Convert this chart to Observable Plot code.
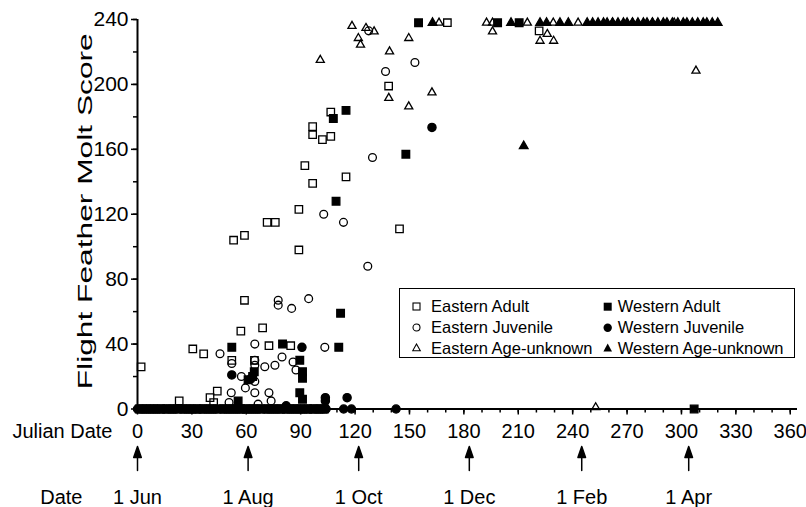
<!DOCTYPE html>
<html>
<head>
<meta charset="utf-8">
<script src="https://cdn.jsdelivr.net/npm/d3@7"></script>
<script src="https://cdn.jsdelivr.net/npm/@observablehq/plot@0.6"></script>
<style>
  html, body { margin: 0; padding: 0; background: #fff; }
  #wrap { position: relative; width: 806px; height: 507px; font-family: "Liberation Sans", Arial, Helvetica, sans-serif; }
  #legend { position: absolute; left: 399px; top: 288px; width: 396px; height: 70px; border: 1.5px solid #000; box-sizing: border-box; }
  .li { position: absolute; height: 20px; line-height: 20px; font-size: 16.5px; color: #000; white-space: nowrap; }
  .li svg { position: absolute; top: 5.5px; }
</style>
</head>
<body>
<div id="wrap"></div>
<script>
// ---- data: [Julian day, flight feather molt score] ----
const easternAdult = [
  [2,26],[23,5],[30.5,37],[36.5,34],[40,7],[42,4],[44,11],[52,30],[53,104],[57,48],
  [59,107],[59,67],[64.5,30],[69,50],[71.5,115],[72.5,39],[76,115],[84.5,39],[89,123],
  [89,98],[92.3,150],[96.6,174],[96.6,169],[96.6,139],[102,166],[106.6,168],[106.6,183],
  [115,143],[138.5,199],[144.5,111],[170.9,238],[221.5,233]
];
const easternJuvenile = [
  [45.5,34],[50.5,4],[51.7,10],[52,28],[57.3,20],[59.5,13],[64.7,40],[64.7,30],[64.7,27],
  [64.7,17],[64.7,10],[66.5,3],[70.2,26],[72.5,10],[73.7,5],[75.8,27],[77.6,67],[77.6,64],
  [79.7,32],[85,62],[85.8,29],[87.4,24],[94.4,68],[102.7,120],[103.3,38],[113.6,115],
  [127,88],[127.5,233],[129.6,155],[136.8,208],[153,213.5]
];
const easternAgeUnknown = [
  [100.8,215],[118.3,236],[121.8,228.5],[123,224.4],[126,234.7],[130.5,232.6],[139,220.3],
  [138.6,191.6],[149.6,228.5],[149.6,186.4],[162.4,195],[166.3,238],[192.5,238],
  [195.8,232.6],[195.8,238],[215,238],[229.3,238],[243,238],[222,226.8],[226,231],
  [229.5,226.8],[252.7,1],[262,238],[273,238],[284,238],[296,238],[308,208.4]
];
const westernAdult = [
  [52,38],[55.5,5],[61,18],[63.5,20],[64.4,23],[80,40],[89.5,30],[89.5,10],[91,23],
  [91,19],[91,6],[108,179],[109.5,128],[111,38],[112,59],[115,184],[148,157],[155,238],
  [198.6,238],[210.5,238],[307,0]
];
const westernAdultZeroDays = [1,3,5,7,9,11,13,16,18,20,22,25,27,29,31,33,36,38,40,42,44,47,49,51,53,55,57,60,62,64,66,68,71,73,75,77,79,82,84,86,88,90,92,94,97,99,101,103];
const westernJuvenile = [
  [52,21],[62.5,18.6],[82,2],[90.7,38],[103.6,7],[103.6,5],[113.7,0],[115.6,7],[118,0],
  [142.6,0],[162.4,173.5]
];
const westernJuvenileZeroDays = [0,2,4,6,8,10,12,14,15,17,19,21,24,26,28,30,32,34,35,37,39,41,43,46,48,50,52,54,56,58,59,61,63,65,67,70,72,74,76,78,80,81,83,85,87,89,91,93,95,96,98,100,102,104];
const westernAgeUnknown = [
  [162.7,238],[206,238],[213,162],[222,238],[225.6,238],[233,238],[237.6,238],
  [248,238],[251,238],[254,238],[257,238],[259,238],[262,238],[265,238],[268,238],
  [270,238],[273,238],[276,238],[279,238],[281,238],[284,238],[287,238],[290,238],
  [292,238],[295,238],[298,238],[301,238],[303,238],[306,238],[309,238],[312,238],
  [314,238],[317,238],[320,238]
];
const xTicks = [0,30,60,90,120,150,180,210,240,270,300,330,360];
const yTicks = [0,40,80,120,160,200,240];
const dateDays = [0,61,122,183,245,304];
const dateLabels = ["1 Jun","1 Aug","1 Oct","1 Dec","1 Feb","1 Apr"];

const seriesNames = ["Eastern Adult","Eastern Juvenile","Eastern Age-unknown","Western Adult","Western Juvenile","Western Age-unknown"];

// ---- build ----
const wa = westernAdult.concat(westernAdultZeroDays.map(d => [d, 0]));
const wj = westernJuvenile.concat(westernJuvenileZeroDays.map(d => [d, 0]));
const series = [
  {data: easternAdult, symbol: "square", filled: false, r: 4.2},
  {data: easternJuvenile, symbol: "circle", filled: false, r: 3.9},
  {data: easternAgeUnknown, symbol: "triangle", filled: false, r: 3},
  {data: wa, symbol: "square", filled: true, r: 4.3},
  {data: wj, symbol: "circle", filled: true, r: 4.1},
  {data: westernAgeUnknown, symbol: "triangle", filled: true, r: 3.2}
];
const dates = dateDays.map((d, i) => ({day: d, label: dateLabels[i]}));

const arrowShape = {
  draw(ctx, l) {
    ctx.moveTo(0, 0);
    ctx.lineTo(0, -l + 8);
    ctx.moveTo(0, -l);
    ctx.lineTo(-3.8, -l + 11);
    ctx.lineTo(3.8, -l + 11);
    ctx.closePath();
  }
};

const chart = Plot.plot({
  width: 806,
  height: 507,
  marginLeft: 137,
  marginRight: 9,
  marginTop: 19,
  marginBottom: 98.5,
  x: {domain: [0, 364], axis: null},
  y: {domain: [0, 240], axis: null},
  style: {fontFamily: "'Liberation Sans', Arial, Helvetica, sans-serif", fontSize: "20px", color: "#000", background: "#fff", overflow: "visible"},
  marks: [
    Plot.axisY(d3.range(0, 241, 20), {tickSize: 4, tickFormat: () => "", strokeWidth: 1.5, label: null}),
    Plot.axisY(yTicks, {tickSize: 6, tickPadding: 3, strokeWidth: 1.5, fontSize: 21, label: null}),
    Plot.axisX(d3.range(0, 361, 10), {tickSize: 4, tickFormat: () => "", strokeWidth: 1.5, label: null}),
    Plot.axisX(xTicks, {tickSize: 6, tickPadding: 9, strokeWidth: 1.5, fontSize: 20, label: null}),
    Plot.ruleX([0], {strokeWidth: 2}),
    Plot.ruleY([0], {strokeWidth: 2}),
    ...series.map(s => Plot.dot(s.data, {
      x: d => d[0], y: d => d[1], symbol: s.symbol, r: s.r,
      fill: s.filled ? "#000" : "none", stroke: "#000", strokeWidth: 1.3
    })),
    Plot.text(["Flight Feather Molt Score"], {frameAnchor: "left", dx: -52, dy: 175, rotate: -90, textAnchor: "start", fontSize: 21, lineAnchor: "middle"}),
    Plot.text(["Julian Date"], {frameAnchor: "bottom-left", dx: -25, dy: 22.5, textAnchor: "end", lineAnchor: "middle", fontSize: 20}),
    Plot.text(["Date"], {frameAnchor: "bottom-left", dx: -55, dy: 88.5, textAnchor: "end", lineAnchor: "middle", fontSize: 20}),
    Plot.text(dates, {x: "day", text: "label", frameAnchor: "bottom", dy: 88.5, lineAnchor: "middle", fontSize: 20}),
    Plot.vector(dates, {x: "day", frameAnchor: "bottom", dy: 61.5, length: 24, anchor: "start", rotate: 0, shape: arrowShape, fill: "#000", stroke: "#000", strokeWidth: 1.5})
  ]
});

chart.querySelectorAll("text").forEach(t => {
  if (t.textContent === "Flight Feather Molt Score") {
    t.setAttribute("textLength", "356");
    t.setAttribute("lengthAdjust", "spacingAndGlyphs");
  }
});

const wrap = document.getElementById("wrap");
wrap.appendChild(chart);

// ---- legend inside the plot ----
const legend = document.createElement("div");
legend.id = "legend";
// [text left, item top, symbol offset] relative to the legend box
const legendPos = [[31, 7.2, -19.5],[31, 28.2, -19.5],[31, 48.8, -19.5],[217.8, 7.2, -14.7],[217.8, 28.2, -14.7],[217.8, 48.8, -14.7]];
const legendSym = [
  '<rect x="1" y="1" width="7" height="7" fill="none" stroke="#000" stroke-width="1.1"/>',
  '<circle cx="4.5" cy="4.5" r="3.5" fill="none" stroke="#000" stroke-width="1.1"/>',
  '<path d="M4.5 1 L8.3 7.8 L0.7 7.8 Z" fill="none" stroke="#000" stroke-width="1.1"/>',
  '<rect x="0.7" y="0.7" width="8" height="8" fill="#000"/>',
  '<circle cx="4.7" cy="4.7" r="4.2" fill="#000"/>',
  '<path d="M4.7 0.5 L9 8.5 L0.4 8.5 Z" fill="#000"/>'
];
seriesNames.forEach((name, i) => {
  const item = document.createElement("div");
  item.className = "li";
  item.style.left = legendPos[i][0] + "px";
  item.style.top = legendPos[i][1] + "px";
  item.innerHTML = '<svg width="10" height="10" style="left:' + legendPos[i][2] + 'px">' + legendSym[i] + '</svg>' + name;
  legend.appendChild(item);
});
wrap.appendChild(legend);
</script>
</body>
</html>
